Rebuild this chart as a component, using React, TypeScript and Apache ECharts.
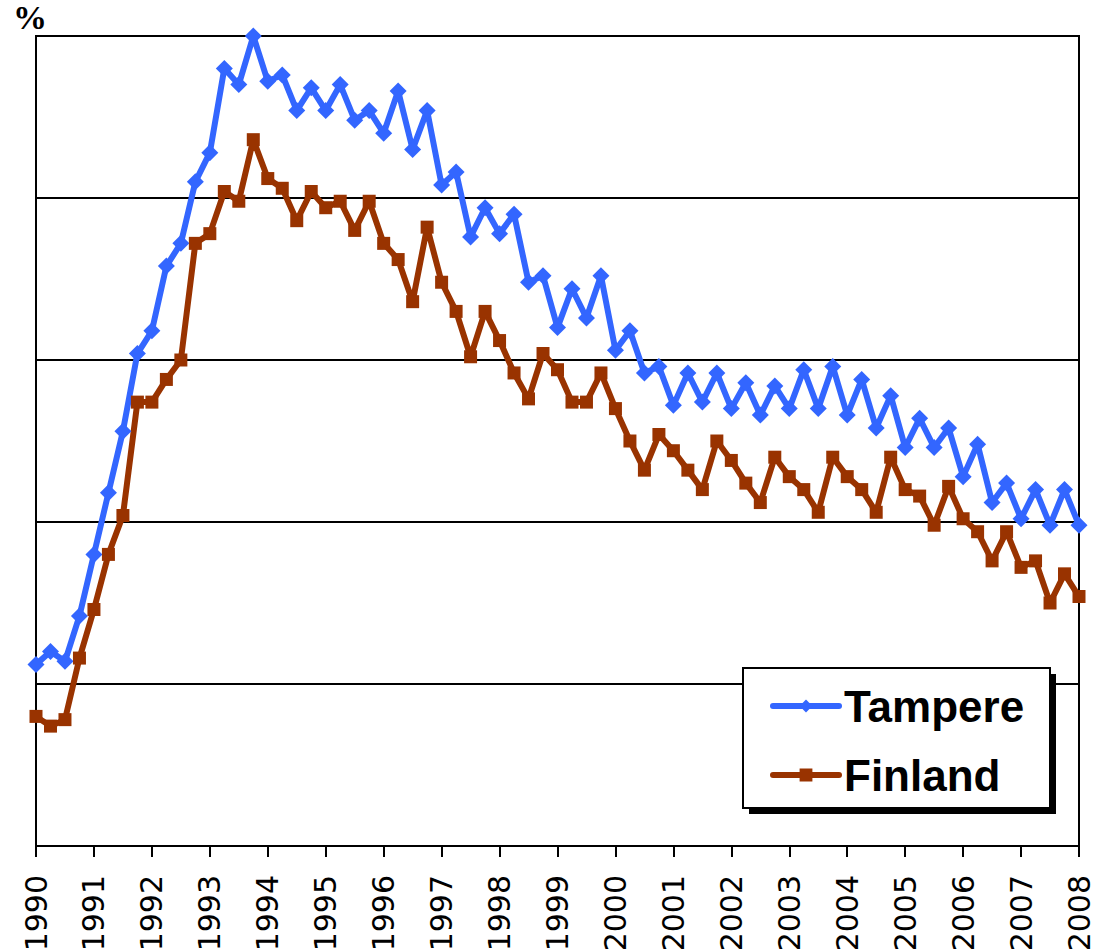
import React, { useEffect, useRef } from "react";
import * as echarts from "echarts";

const years: string[] = [
  "1990", "1991", "1992", "1993", "1994", "1995", "1996", "1997", "1998",
  "1999", "2000", "2001", "2002", "2003", "2004", "2005", "2006", "2007", "2008",
];
const quarters: string[] = ["Q1", "Q2", "Q3", "Q4"];

const tampere: number[] = [
  5.6, 6.0, 5.7, 7.1, 9.0, 10.9, 12.8, 15.2, 15.9, 17.9, 18.6, 20.5,
  21.4, 24.0, 23.5, 25.0, 23.6, 23.8, 22.7, 23.4, 22.7, 23.5, 22.4, 22.7,
  22.0, 23.3, 21.5, 22.7, 20.4, 20.8, 18.8, 19.7, 18.9, 19.5, 17.4, 17.6,
  16.0, 17.2, 16.3, 17.6, 15.3, 15.9, 14.6, 14.8, 13.6, 14.6, 13.7, 14.6,
  13.5, 14.3, 13.3, 14.2, 13.5, 14.7, 13.5, 14.8, 13.3, 14.4, 12.9, 13.9,
  12.3, 13.2, 12.3, 12.9, 11.4, 12.4, 10.6, 11.2, 10.1, 11.0, 9.9, 11.0,
  9.9,
];

const finland: number[] = [
  4.0, 3.7, 3.9, 5.8, 7.3, 9.0, 10.2, 13.7, 13.7, 14.4, 15.0, 18.6,
  18.9, 20.2, 19.9, 21.8, 20.6, 20.3, 19.3, 20.2, 19.7, 19.9, 19.0, 19.9,
  18.6, 18.1, 16.8, 19.1, 17.4, 16.5, 15.1, 16.5, 15.6, 14.6, 13.8, 15.2,
  14.7, 13.7, 13.7, 14.6, 13.5, 12.5, 11.6, 12.7, 12.2, 11.6, 11.0, 12.5,
  11.9, 11.2, 10.6, 12.0, 11.4, 11.0, 10.3, 12.0, 11.4, 11.0, 10.3, 12.0,
  11.0, 10.8, 9.9, 11.1, 10.1, 9.7, 8.8, 9.7, 8.6, 8.8, 7.5, 8.4,
  7.7,
];

const seriesNames: string[] = ["Tampere", "Finland"];
const yUnit = "%";

// category labels: one per quarter, 1990 Q1 ... 2008 Q1
const categories: string[] = [];
years.forEach((y, yi) => {
  quarters.forEach((q, qi) => {
    if (yi < years.length - 1 || qi === 0) categories.push(qi === 0 ? y : y + " " + q);
  });
});

export default function App() {
  const ref = useRef<HTMLDivElement>(null);
  useEffect(() => {
    if (!ref.current) return;
    const chart = echarts.init(ref.current, undefined, { renderer: "svg" });
    const sans = "Liberation Sans, Arial, sans-serif";
    chart.setOption({
      animation: false,
      backgroundColor: "#ffffff",
      grid: {
        left: 36,
        right: 25,
        top: 36,
        bottom: 106,
        outerBoundsMode: "none",
        containLabel: false,
        show: true,
        borderColor: "#000",
        borderWidth: 2,
        backgroundColor: "transparent",
      },
      xAxis: {
        type: "category",
        data: categories,
        boundaryGap: false,
        axisLine: { show: true, lineStyle: { color: "#000", width: 2 } },
        axisTick: { show: true, interval: 3, length: 11, lineStyle: { color: "#000", width: 2 } },
        axisLabel: {
          interval: 3,
          rotate: 90,
          margin: 29,
          color: "#000",
          fontSize: 30,
          fontFamily: "DejaVu Sans, sans-serif",
          formatter: (v: string) => v.slice(0, 4),
        },
        splitLine: { show: false },
      },
      yAxis: {
        type: "value",
        min: 0,
        max: 25,
        interval: 5,
        axisLine: { show: true, lineStyle: { color: "#000", width: 2 } },
        axisTick: { show: false },
        axisLabel: { show: false },
        splitLine: { show: true, lineStyle: { color: "#000", width: 2 } },
      },
      legend: {
        orient: "vertical",
        left: 770,
        top: 684,
        padding: 0,
        itemGap: 25,
        itemWidth: 66,
        itemHeight: 16,
        z: 10,
        lineStyle: { width: 6, cap: "round" },
        textStyle: { fontSize: 44, fontWeight: "bold", color: "#000", fontFamily: sans, padding: [0, 0, 0, 0] },
        data: seriesNames,
      },
      graphic: [
        { type: "rect", z: 5, shape: { x: 749, y: 674, width: 307, height: 140 }, style: { fill: "#000" } },
        {
          type: "rect",
          z: 6,
          shape: { x: 743, y: 668, width: 307, height: 140 },
          style: { fill: "#fff", stroke: "#000", lineWidth: 2 },
        },
        {
          type: "text",
          z: 6,
          x: 13,
          y: 0,
          style: {
            text: yUnit,
            fill: "#000",
            font: "bold 34px 'Liberation Serif', 'Times New Roman', serif",
            verticalAlign: "top",
          },
        },
      ],
      series: [
        {
          name: seriesNames[0],
          type: "line",
          data: tampere,
          color: "#3366ff",
          symbol: "diamond",
          symbolSize: 17,
          showAllSymbol: true,
          lineStyle: { width: 6, color: "#3366ff", cap: "round" },
          itemStyle: { color: "#3366ff" },
          z: 3,
        },
        {
          name: seriesNames[1],
          type: "line",
          data: finland,
          color: "#993300",
          symbol: "rect",
          symbolSize: 13,
          showAllSymbol: true,
          lineStyle: { width: 6, color: "#993300", cap: "round" },
          itemStyle: { color: "#993300" },
          z: 3,
        },
      ],
    });
    return () => chart.dispose();
  }, []);
  return (
    <div
      ref={ref}
      style={{ position: "absolute", left: 0, top: 0, width: 1104, height: 952, background: "#fff" }}
    />
  );
}
